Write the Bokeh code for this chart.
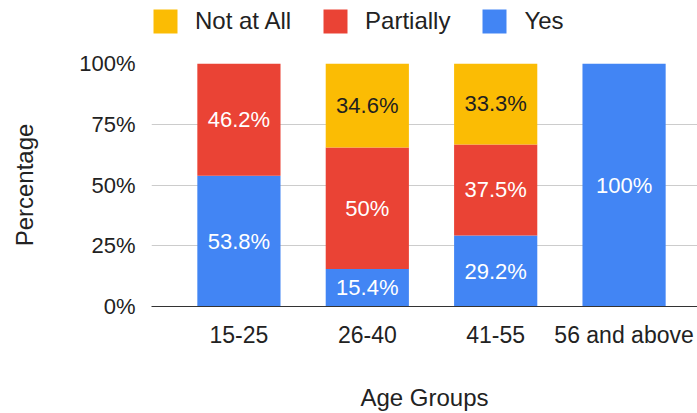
from bokeh.plotting import figure
from bokeh.layouts import column
from bokeh.models import (ColumnDataSource, Range1d, FixedTicker, Legend, LegendItem, LabelSet)
from bokeh.core.properties import value
from bokeh.embed import file_html
from bokeh.resources import INLINE

# ---- data ----
age_groups = ["15-25", "26-40", "41-55", "56 and above"]
yes = [53.8, 15.4, 29.2, 100.0]
partially = [46.2, 50.0, 37.5, 0.0]
not_at_all = [0.0, 34.6, 33.3, 0.0]
y_ticks = [0, 25, 50, 75, 100]

series_names = ["Yes", "Partially", "Not at All"]
series_values = [yes, partially, not_at_all]
series_colors = ["#4285F4", "#EA4335", "#FBBC04"]
label_colors = ["#FFFFFF", "#FFFFFF", "#1F1F1F"]

FONT = "Liberation Sans"
x = list(range(len(age_groups)))

LEG_H = 40
src = ColumnDataSource(dict(x=x, Yes=yes, Partially=partially, **{"Not at All": not_at_all}))

p = figure(width=697, height=413 - LEG_H, output_backend="svg", toolbar_location=None,
           x_range=Range1d(-0.681, 3.572), y_range=Range1d(0, 100),
           min_border_left=151, min_border_right=0, min_border_top=63 - LEG_H, min_border_bottom=107)
p.outline_line_color = None

renderers = p.vbar_stack(series_names, x="x", width=0.648, source=src,
                         color=series_colors, line_color=None)

# data labels
for i, (name, vals) in enumerate(zip(series_names, series_values)):
    bottoms = [sum(v[k] for v in series_values[:i]) for k in range(len(vals))]
    xs, ys, txt = [], [], []
    for k, v in enumerate(vals):
        if v > 0:
            xs.append(x[k])
            ys.append(bottoms[k] + v / 2)
            txt.append(f"{v:g}%")
    ls = ColumnDataSource(dict(x=xs, y=ys, t=txt))
    p.add_layout(LabelSet(x="x", y="y", text="t", source=ls, text_align="center",
                          text_baseline="middle", text_color=label_colors[i],
                          text_font=value(FONT), text_font_size="22px"))

# axes
p.xaxis.ticker = FixedTicker(ticks=x)
p.xaxis.major_label_overrides = {i: g for i, g in enumerate(age_groups)}
p.xaxis.major_tick_line_color = None
p.xaxis.minor_tick_line_color = None
p.xaxis.axis_line_color = "#333333"
p.xaxis.major_label_text_font = FONT
p.xaxis.major_label_text_font_size = "23px"
p.xaxis.major_label_text_color = "#222222"
p.xaxis.major_label_standoff = 9
p.xaxis.axis_label = "Age Groups"
p.xaxis.axis_label_text_font = FONT
p.xaxis.axis_label_text_font_size = "24px"
p.xaxis.axis_label_text_font_style = "normal"
p.xaxis.axis_label_text_color = "#222222"
p.xaxis.axis_label_standoff = 33

p.yaxis.ticker = FixedTicker(ticks=y_ticks)
p.yaxis.major_label_overrides = {t: f"{t}%" for t in y_ticks}
p.yaxis.major_tick_line_color = None
p.yaxis.minor_tick_line_color = None
p.yaxis.axis_line_color = None
p.yaxis.major_label_text_font = FONT
p.yaxis.major_label_text_font_size = "22px"
p.yaxis.major_label_text_color = "#222222"
p.yaxis.major_label_standoff = 10
p.yaxis.axis_label = "Percentage"
p.yaxis.axis_label_text_font = FONT
p.yaxis.axis_label_text_font_size = "24px"
p.yaxis.axis_label_text_font_style = "normal"
p.yaxis.axis_label_text_color = "#222222"
p.yaxis.axis_label_standoff = 38

p.xgrid.grid_line_color = None
p.ygrid.grid_line_color = "#CCCCCC"
p.ygrid.grid_line_width = 1

# ---- legend strip (separate figure; its frame is aligned with the chart frame) ----
lg = figure(width=697, height=LEG_H, output_backend="svg", toolbar_location=None,
            x_range=Range1d(0, 1), y_range=Range1d(0, 1),
            x_axis_type=None, y_axis_type=None,
            min_border_left=151, min_border_right=0,
            min_border_top=0, min_border_bottom=0)
lg.outline_line_color = None
lg.grid.grid_line_color = None
offscreen = ColumnDataSource(dict(x=[-10.0], top=[0.0]))
dummy = {n: lg.vbar(x="x", top="top", width=0.5, source=offscreen, color=c, line_color=None)
         for n, c in zip(series_names, series_colors)}

order = ["Not at All", "Partially", "Yes"]
legend = Legend(items=[LegendItem(label=n, renderers=[dummy[n]]) for n in order],
                orientation="horizontal", location=(-1, 4),
                glyph_width=30, glyph_height=30, label_height=30,
                label_standoff=15, spacing=29, padding=0, margin=0,
                label_text_font=FONT, label_text_font_size="24px", label_text_color="#222222",
                background_fill_alpha=0, border_line_color=None)
lg.add_layout(legend, "center")

layout = column(lg, p, spacing=0)
open("out.html", "w").write(file_html(layout, INLINE))
